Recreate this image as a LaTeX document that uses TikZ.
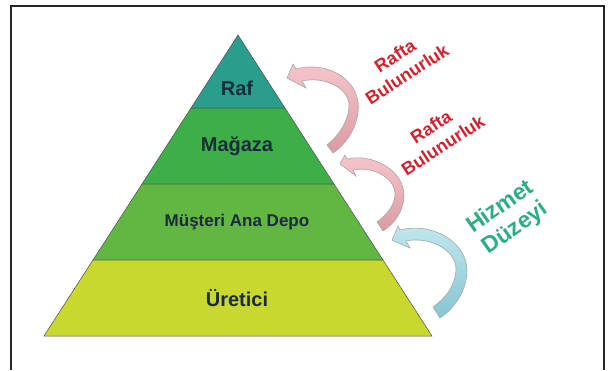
\documentclass[tikz,border=0pt]{standalone}
\usepackage{fontspec}
\setmainfont{Liberation Sans}
\usepackage{tikz}
\usepackage{xcolor}

\definecolor{rafteal}{HTML}{2A9E8C}
\definecolor{magazagreen}{HTML}{3DAE48}
\definecolor{depogreen}{HTML}{62B743}
\definecolor{ureticiyellow}{HTML}{C8D82C}
\definecolor{labelnavy}{HTML}{1B2B3B}
\definecolor{raftared}{HTML}{D2222F}
\definecolor{hizmetgreen}{HTML}{2EAD82}
\definecolor{pinklight}{HTML}{F6C7CC}
\definecolor{pinkdark}{HTML}{DC9AA2}
\definecolor{bluelight}{HTML}{C2E8EF}
\definecolor{bluedark}{HTML}{86C6D2}

\tikzset{
	band/.style={draw=gray!60!black,line width=0.5pt},
	lvl/.style={font=\bfseries\fontsize{20}{24}\selectfont,text=labelnavy},
	curvearrow/.style={draw=gray!70,line width=0.6pt},
	pinkarrow/.style={curvearrow,top color=pinklight,bottom color=pinkdark},
	bluearrow/.style={curvearrow,top color=bluelight,bottom color=bluedark},
	sidetext/.style={font=\bfseries\fontsize{18}{22}\selectfont,align=center}
}

\begin{document}
\begin{tikzpicture}[x=1pt,y=-1pt]
	\useasboundingbox (0,0) rectangle (610,370);
	\draw[line width=1.2pt,black!85] (11,370) -- (11,6) -- (604,6) -- (604,370);
	
	% pyramid
	\fill[band,fill=rafteal] (238,35) -- (285,108) -- (191,108) -- cycle;
	\fill[band,fill=magazagreen] (191,108) -- (285,108) -- (334,184) -- (142,184) -- cycle;
	\fill[band,fill=depogreen] (142,184) -- (334,184) -- (383,260) -- (93,260) -- cycle;
	\fill[band,fill=ureticiyellow] (93,260) -- (383,260) -- (432,336) -- (44,336) -- cycle;
	
	\node[lvl] (raf) at (237,88) {Raf};
	\node[lvl] (magaza) at (237,146) {Mağaza};
	\node[lvl,font=\bfseries\fontsize{17}{20}\selectfont] (depo) at (237,222) {Müşteri Ana Depo};
	\node[lvl] (uretici) at (237,298) {Üretici};
	
	% curved arrows
	\draw[pinkarrow] (287,78) -- (293,64) -- (296,69)
		.. controls (330,60) and (362,82) .. (358,112)
		.. controls (356,130) and (345,145) .. (333,153) -- (327,145)
		.. controls (340,135) and (350,118) .. (349,103)
		.. controls (347,88) and (325,76) .. (302,81) -- (306,88) -- cycle;
	\draw[pinkarrow] (340,164) -- (345,155) -- (347,159)
		.. controls (372,153) and (405,170) .. (404,197)
		.. controls (403,212) and (394,224) .. (383,231) -- (377,222)
		.. controls (388,214) and (396,203) .. (395,192)
		.. controls (393,177) and (372,166) .. (353,170) -- (356,176) -- cycle;
	\draw[bluearrow] (392,240) -- (398,226) -- (400,230)
		.. controls (430,222) and (466,240) .. (467,270)
		.. controls (467,290) and (455,308) .. (440,318) -- (433,307)
		.. controls (446,298) and (456,285) .. (456,268)
		.. controls (455,250) and (430,236) .. (406,241) -- (410,248) -- cycle;
	
	\node[sidetext,text=raftared,rotate=33] (rafta1) at (401,65) {Rafta\\Bulunurluk};
	\node[sidetext,text=raftared,rotate=33] (rafta2) at (437,136) {Rafta\\Bulunurluk};
	\node[sidetext,text=hizmetgreen,rotate=35,font=\bfseries\fontsize{23}{26}\selectfont] (hizmet) at (508,218) {Hizmet\\Düzeyi};
\end{tikzpicture}
\end{document}
